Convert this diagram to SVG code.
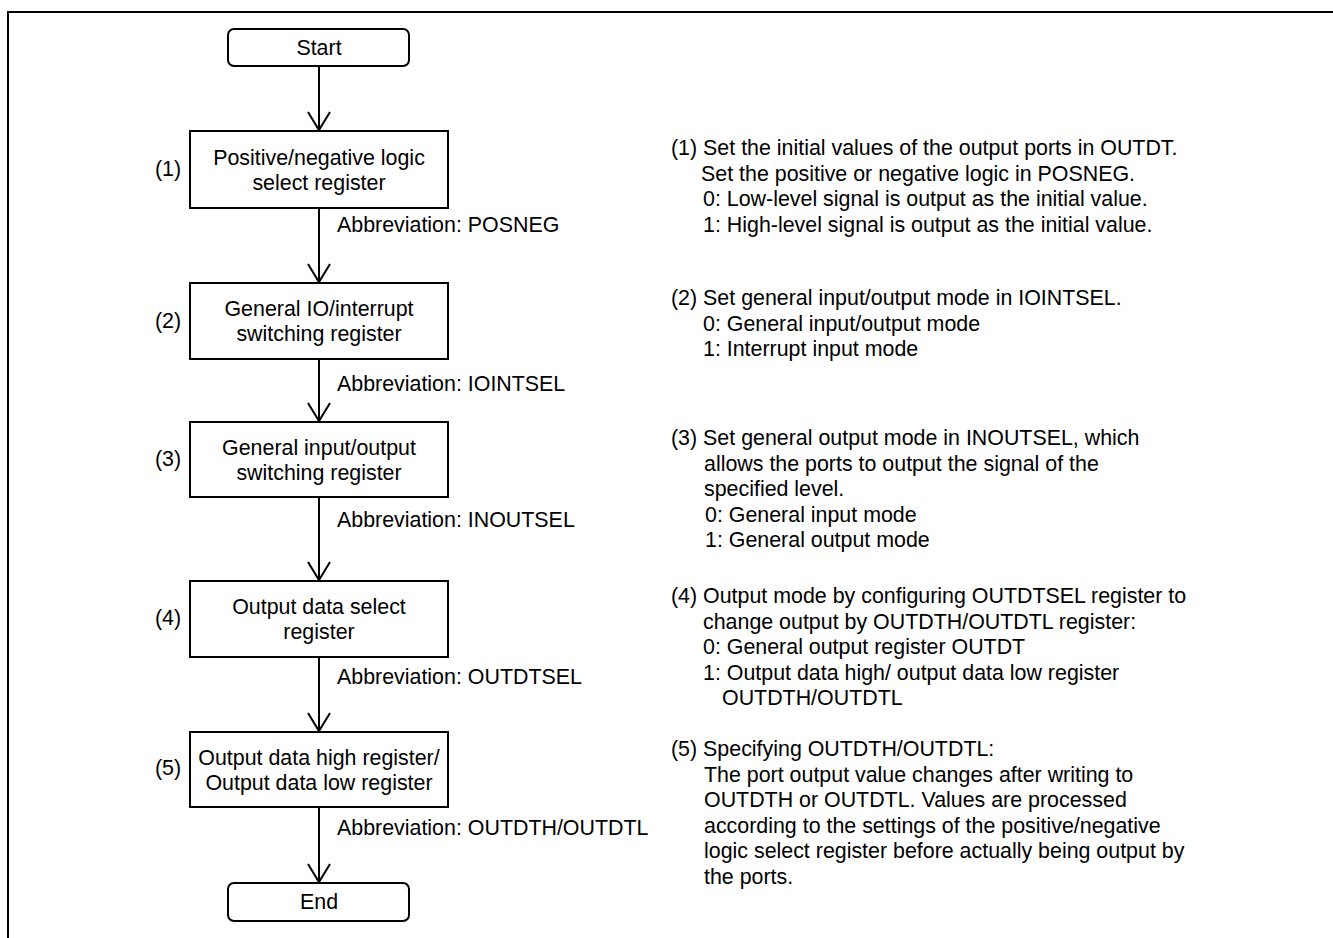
<svg xmlns="http://www.w3.org/2000/svg" width="1333" height="938" viewBox="0 0 1333 938">
<style>
text{font-family:"Liberation Sans",Arial,sans-serif;font-size:21.4px;fill:#000}
.c{text-anchor:middle}
.box{fill:#fff;stroke:#000;stroke-width:2}
.ln{fill:none;stroke:#000;stroke-width:2}
</style>
<defs>
<marker id="ah" markerWidth="22" markerHeight="26" refX="19" refY="12" orient="auto" markerUnits="userSpaceOnUse" viewBox="0 0 22 26">
<path d="M1,1 L19,12 L1,23" fill="none" stroke="#000" stroke-width="2"/>
</marker>
</defs>
<rect width="1333" height="938" fill="#fff"/>
<path class="ln" d="M8,938 V12 H1333"/>
<g id="connectors">
<path class="ln" d="M319,66 V130" marker-end="url(#ah)"/>
<path class="ln" d="M319,208 V282" marker-end="url(#ah)"/>
<path class="ln" d="M319,359 V421" marker-end="url(#ah)"/>
<path class="ln" d="M319,497 V580" marker-end="url(#ah)"/>
<path class="ln" d="M319,657 V731" marker-end="url(#ah)"/>
<path class="ln" d="M319,807 V882" marker-end="url(#ah)"/>
<text x="337" y="232">Abbreviation: POSNEG</text>
<text x="337" y="391">Abbreviation: IOINTSEL</text>
<text x="337" y="527">Abbreviation: INOUTSEL</text>
<text x="337" y="684">Abbreviation: OUTDTSEL</text>
<text x="337" y="835">Abbreviation: OUTDTH/OUTDTL</text>
</g>
<g id="start">
<rect class="box" x="228" y="29" width="181" height="37" rx="6"/>
<text class="c" x="319" y="55">Start</text>
</g>
<g id="step1">
<rect class="box" x="190" y="131" width="258" height="77"/>
<text class="c" x="319" y="165">Positive/negative logic</text>
<text class="c" x="319" y="190">select register</text>
<text x="155" y="176">(1)</text>
</g>
<g id="step2">
<rect class="box" x="190" y="283" width="258" height="76"/>
<text class="c" x="319" y="316">General IO/interrupt</text>
<text class="c" x="319" y="341">switching register</text>
<text x="155" y="328">(2)</text>
</g>
<g id="step3">
<rect class="box" x="190" y="422" width="258" height="75"/>
<text class="c" x="319" y="455">General input/output</text>
<text class="c" x="319" y="480">switching register</text>
<text x="155" y="466">(3)</text>
</g>
<g id="step4">
<rect class="box" x="190" y="581" width="258" height="76"/>
<text class="c" x="319" y="614">Output data select</text>
<text class="c" x="319" y="639">register</text>
<text x="155" y="625">(4)</text>
</g>
<g id="step5">
<rect class="box" x="190" y="732" width="258" height="75"/>
<text class="c" x="319" y="765">Output data high register/</text>
<text class="c" x="319" y="790">Output data low register</text>
<text x="155" y="775">(5)</text>
</g>
<g id="end">
<rect class="box" x="228" y="883" width="181" height="38" rx="6"/>
<text class="c" x="319" y="909">End</text>
</g>
<g id="notes">
<text x="671" y="155">(1) Set the initial values of the output ports in OUTDT.</text>
<text x="701" y="180.5">Set the positive or negative logic in POSNEG.</text>
<text x="703" y="206">0: Low-level signal is output as the initial value.</text>
<text x="703" y="231.5">1: High-level signal is output as the initial value.</text>
<text x="671" y="305">(2) Set general input/output mode in IOINTSEL.</text>
<text x="703" y="330.5">0: General input/output mode</text>
<text x="703" y="356">1: Interrupt input mode</text>
<text x="671" y="445">(3) Set general output mode in INOUTSEL, which</text>
<text x="704" y="470.5">allows the ports to output the signal of the</text>
<text x="704" y="496">specified level.</text>
<text x="705" y="521.5">0: General input mode</text>
<text x="705" y="547">1: General output mode</text>
<text x="671" y="603">(4) Output mode by configuring OUTDTSEL register to</text>
<text x="703" y="628.5">change output by OUTDTH/OUTDTL register:</text>
<text x="703" y="654">0: General output register OUTDT</text>
<text x="703" y="679.5">1: Output data high/ output data low register</text>
<text x="722" y="705">OUTDTH/OUTDTL</text>
<text x="671" y="756">(5) Specifying OUTDTH/OUTDTL:</text>
<text x="704" y="781.5">The port output value changes after writing to</text>
<text x="704" y="807">OUTDTH or OUTDTL. Values are processed</text>
<text x="704" y="832.5">according to the settings of the positive/negative</text>
<text x="704" y="858">logic select register before actually being output by</text>
<text x="704" y="883.5">the ports.</text>
</g>
</svg>
